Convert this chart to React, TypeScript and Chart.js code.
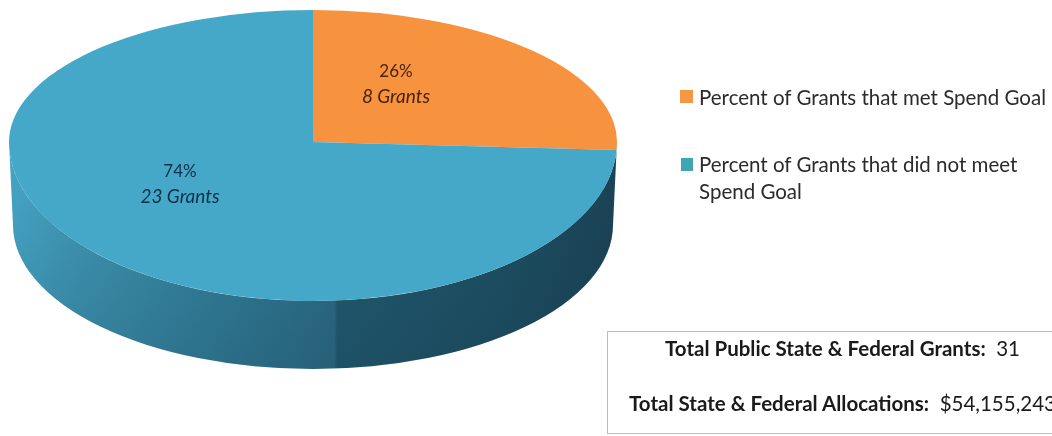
import React, { useEffect, useRef } from "react";
import { Chart, registerables } from "chart.js";

Chart.register(...registerables);

// Grant counts by outcome
const outcomes = ["Percent of Grants that met Spend Goal", "Percent of Grants that did not meet Spend Goal"];
const grantCounts = [8, 23];
const sliceColors = ["#F7923F", "#46A8C8"];
const legendColors = ["#F79646", "#3FA4B4"];

// Summary box
const totalGrants = 31;
const totalAllocations = "$54,155,243";

const FONT = "Lato, Carlito, 'Open Sans', sans-serif";

// Oblique projection of the disc: apex, half widths and half heights above/below the apex
const APEX = { x: 313, y: 142 };
const TOP_FACE = { rx: 304, ryUp: 132, ryDown: 159 };
const BASE = { x: 313, y: 225, rx: 300, ry: 144 };

const tiltedPie = {
  id: "tiltedPie",
  beforeDatasetDraw(chart: any, args: any) {
    const ctx: CanvasRenderingContext2D = chart.ctx;
    const arcs = args.meta.data;
    const R = arcs[0].outerRadius;
    const { width, height } = chart;

    // Side wall below the front half of the rim
    ctx.save();
    ctx.beginPath();
    ctx.ellipse(APEX.x, APEX.y, TOP_FACE.rx, TOP_FACE.ryDown, 0, 0, Math.PI);
    ctx.lineTo(BASE.x - BASE.rx, BASE.y);
    ctx.ellipse(BASE.x, BASE.y, BASE.rx, BASE.ry, 0, Math.PI, 0, true);
    ctx.closePath();
    const wall = ctx.createLinearGradient(APEX.x - TOP_FACE.rx, 0, APEX.x + TOP_FACE.rx, 0);
    wall.addColorStop(0, "#44A2C2");
    wall.addColorStop(0.12, "#3D92AF");
    wall.addColorStop(0.35, "#327C97");
    wall.addColorStop(0.535, "#2C6C85");
    wall.addColorStop(0.54, "#225A6F");
    wall.addColorStop(0.8, "#1E4F63");
    wall.addColorStop(1, "#1A4355");
    ctx.fillStyle = wall;
    ctx.fill();
    // Darkens towards the lower edge of the wall
    const shade = ctx.createLinearGradient(0, 200, 0, 369);
    shade.addColorStop(0, "rgba(10,40,60,0)");
    shade.addColorStop(1, "rgba(10,40,60,0.18)");
    ctx.fillStyle = shade;
    ctx.fill();
    ctx.restore();

    // Top face: the two halves of the pie are scaled separately around the apex
    const halves = [
      { top: 0, bottom: APEX.y, ry: TOP_FACE.ryUp },
      { top: APEX.y, bottom: height, ry: TOP_FACE.ryDown },
    ];
    for (const half of halves) {
      ctx.save();
      ctx.beginPath();
      ctx.rect(0, half.top, width, half.bottom - half.top);
      ctx.clip();
      ctx.translate(APEX.x, APEX.y);
      ctx.scale(TOP_FACE.rx / R, half.ry / R);
      ctx.translate(-arcs[0].x, -arcs[0].y);
      arcs.forEach((arc: any) => arc.draw(ctx));
      ctx.restore();
    }
    return false;
  },
};

function sliceLabel(left: number, top: number, i: number, color: string) {
  const pct = Math.round((grantCounts[i] / totalGrants) * 100);
  return (
    <div
      key={i}
      style={{
        position: "absolute",
        left: left - 70,
        top,
        width: 140,
        textAlign: "center",
        color,
        lineHeight: "25px",
        fontFamily: FONT,
      }}
    >
      <div style={{ fontSize: 17 }}>{pct}%</div>
      <div style={{ fontStyle: "italic", fontSize: 19 }}>{grantCounts[i]} Grants</div>
    </div>
  );
}

export default function App() {
  const canvasRef = useRef<HTMLCanvasElement>(null);

  useEffect(() => {
    const chart = new Chart(canvasRef.current!, {
      type: "pie",
      data: {
        labels: outcomes,
        datasets: [{ data: grantCounts, backgroundColor: sliceColors, borderWidth: 0 }],
      },
      options: {
        animation: false,
        responsive: false,
        plugins: { legend: { display: false }, tooltip: { enabled: false } },
      },
      plugins: [tiltedPie],
    } as any);
    return () => chart.destroy();
  }, []);

  const legendText: React.CSSProperties = {
    position: "absolute",
    left: 699,
    color: "#2b2b2b",
    fontFamily: FONT,
    fontSize: 20.5,
    lineHeight: "27px",
    whiteSpace: "nowrap",
  };

  return (
    <div style={{ position: "fixed", left: 0, top: 0, width: 1052, height: 436, overflow: "hidden", background: "#fff" }}>
      <canvas ref={canvasRef} width={1052} height={436} style={{ display: "block" }} />
      {sliceLabel(396, 58, 0, "#47240C")}
      {sliceLabel(180, 158, 1, "#0E2F48")}

      <div style={{ position: "absolute", left: 680, top: 90, width: 13, height: 13, background: legendColors[0] }} />
      <div style={{ ...legendText, top: 84 }}>{outcomes[0]}</div>
      <div style={{ position: "absolute", left: 681, top: 158, width: 12, height: 13, background: legendColors[1] }} />
      <div style={{ ...legendText, top: 151, width: 340, whiteSpace: "normal" }}>{outcomes[1]}</div>

      <div
        style={{
          position: "absolute",
          left: 607,
          top: 331,
          width: 470,
          height: 103,
          boxSizing: "border-box",
          borderTop: "1px solid #bdbdbd",
          borderBottom: "1px solid #bdbdbd",
          borderLeft: "1px solid #bdbdbd",
          textAlign: "center",
          fontFamily: FONT,
          fontSize: 20.5,
          color: "#1a1a1a",
          whiteSpace: "nowrap",
        }}
      >
        <div style={{ position: "absolute", top: 3, width: "100%", lineHeight: "27px" }}>
          <b>Total Public State &amp; Federal Grants:</b>&nbsp; {totalGrants}
        </div>
        <div style={{ position: "absolute", top: 58, width: "100%", lineHeight: "27px" }}>
          <b>Total State &amp; Federal Allocations:</b>&nbsp; {totalAllocations}
        </div>
      </div>
    </div>
  );
}
